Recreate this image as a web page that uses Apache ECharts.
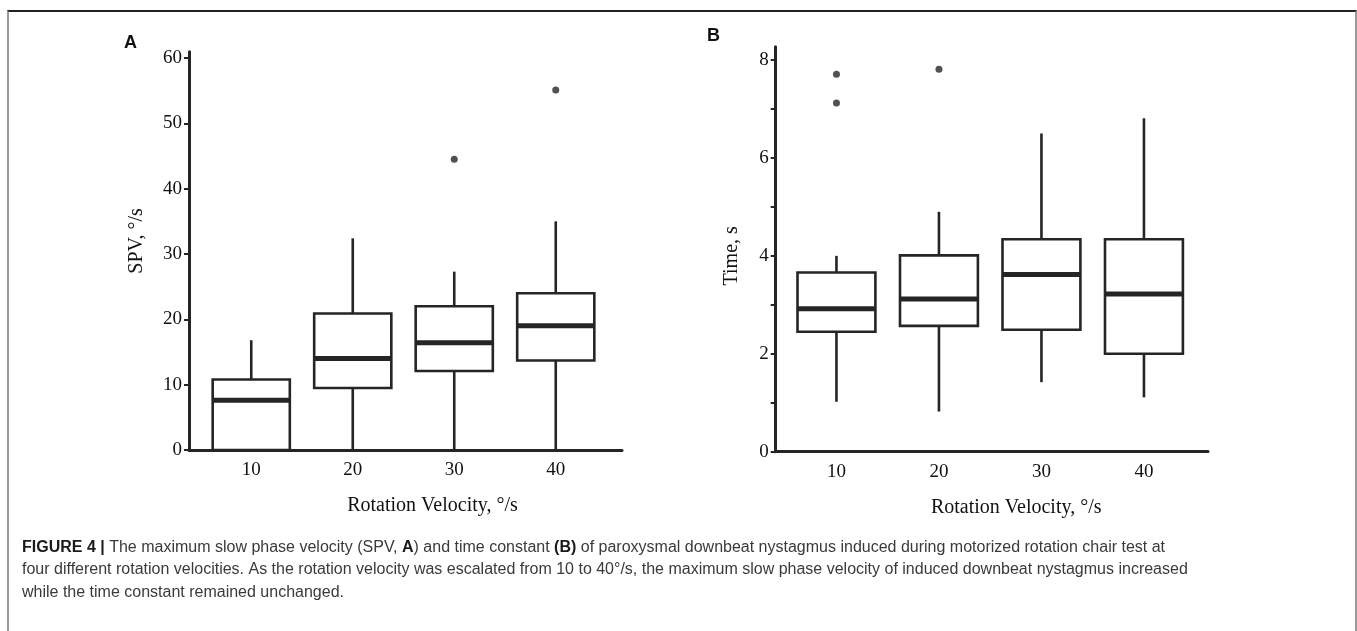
<!DOCTYPE html>
<html>
<head>
<meta charset="utf-8">
<script src="https://cdn.jsdelivr.net/npm/echarts@6/dist/echarts.min.js"></script>
<style>
    body { margin: 0; background: #fff; }
    #chart { position: absolute; left: 0; top: 0; width: 1357px; height: 631px; }
    #frame {
        position: absolute; left: 7px; top: 10px; width: 1346px; height: 640px;
        border-top: 2px solid #222; border-left: 2px solid #999; border-right: 2px solid #999;
        pointer-events: none;
    }
</style>
</head>
<body>
<div id="chart"></div>
<div id="frame"></div>
<script>
// rotation velocities (°/s)
var velocities = ['10', '20', '30', '40'];

// panel A: maximum slow phase velocity, °/s
var spvMin = [0, 0, 0, 0];
var spvQ1 = [0, 9.5, 12.1, 13.7];
var spvMedian = [7.6, 14.0, 16.4, 19.0];
var spvQ3 = [10.8, 20.9, 22.0, 24.0];
var spvMax = [16.8, 32.4, 27.3, 35.0];
var spvOutliers = [[2, 44.5], [3, 55.1]];

// panel B: time constant, s
var timeMin = [1.02, 0.82, 1.42, 1.11];
var timeQ1 = [2.45, 2.57, 2.49, 2.0];
var timeMedian = [2.92, 3.12, 3.62, 3.22];
var timeQ3 = [3.66, 4.01, 4.34, 4.34];
var timeMax = [4.0, 4.9, 6.5, 6.81];
var timeOutliers = [[0, 7.71], [0, 7.12], [1, 7.81]];

var ink = '#252525';
var serif = 'Liberation Serif';

function boxRows(mn, q1, med, q3, mx) {
    var rows = [];
    for (var i = 0; i < velocities.length; i++) {
        rows.push([i, mn[i], q1[i], med[i], q3[i], mx[i]]);
    }
    return rows;
}

// box without whisker caps, thick median
function renderBox(params, api) {
    var x = api.value(0);
    var lo = api.coord([x, api.value(1)]);
    var q1 = api.coord([x, api.value(2)]);
    var med = api.coord([x, api.value(3)]);
    var q3 = api.coord([x, api.value(4)]);
    var hi = api.coord([x, api.value(5)]);
    var half = api.size([1, 0])[0] * 0.38;
    var cx = q1[0];
    return {
        type: 'group',
        children: [
            {type: 'line', shape: {x1: cx, y1: lo[1], x2: cx, y2: q1[1]}, style: {stroke: ink, lineWidth: 2.6}},
            {type: 'line', shape: {x1: cx, y1: q3[1], x2: cx, y2: hi[1]}, style: {stroke: ink, lineWidth: 2.6}},
            {type: 'rect', shape: {x: cx - half, y: q3[1], width: half * 2, height: q1[1] - q3[1]},
                style: {fill: '#fff', stroke: ink, lineWidth: 2.6}},
            {type: 'line', shape: {x1: cx - half, y1: med[1], x2: cx + half, y2: med[1]}, style: {stroke: ink, lineWidth: 5}}
        ]
    };
}

function frameAxes(gridIdx) {
    return {
        x: {type: 'value', gridIndex: gridIdx, min: 0, max: 1, axisLine: {show: true, lineStyle: {color: ink, width: 3}},
            axisTick: {show: false}, axisLabel: {show: false}, splitLine: {show: false}},
        y: {type: 'value', gridIndex: gridIdx, min: 0, max: 1, axisLine: {show: true, lineStyle: {color: ink, width: 3}},
            axisTick: {show: false}, axisLabel: {show: false}, splitLine: {show: false}}
    };
}

var fA = frameAxes(0), fB = frameAxes(2);

var chart = echarts.init(document.getElementById('chart'));
chart.setOption({
    animation: false,
    title: [
        {text: 'A', left: 124, top: 34, padding: 0, textStyle: {fontFamily: 'Liberation Sans', fontWeight: 'bold', fontSize: 18, color: '#111'}},
        {text: 'B', left: 707, top: 27, padding: 0, textStyle: {fontFamily: 'Liberation Sans', fontWeight: 'bold', fontSize: 18, color: '#111'}},
        {
            text: '{b|FIGURE 4 |} The maximum slow phase velocity (SPV, {b|A}) and time constant {b|(B)} of paroxysmal downbeat nystagmus induced during motorized rotation chair test at\n' +
                'four different rotation velocities. As the rotation velocity was escalated from 10 to 40°/s, the maximum slow phase velocity of induced downbeat nystagmus increased\n' +
                'while the time constant remained unchanged.',
            left: 22, top: 536, padding: 0,
            textStyle: {
                fontFamily: 'Liberation Sans', fontSize: 16, fontWeight: 'normal', color: '#3a3a3a', lineHeight: 22.5,
                rich: {b: {fontFamily: 'Liberation Sans', fontSize: 16, fontWeight: 'bold', color: '#1a1a1a', lineHeight: 22.5}}
            }
        }
    ],
    grid: [
        {left: 189, top: 51.7, width: 433, height: 398.3},
        {left: 200.5, top: 58, width: 406, height: 392},
        {left: 775.7, top: 46.7, width: 432.3, height: 405},
        {left: 785.2, top: 60, width: 410, height: 391.7}
    ],
    xAxis: [
        fA.x,
        {type: 'category', gridIndex: 1, data: velocities, axisLine: {show: false}, axisTick: {show: false},
            axisLabel: {fontFamily: serif, fontSize: 19, color: '#111', margin: 11},
            name: 'Rotation Velocity, °/s', nameLocation: 'middle', nameGap: 46,
            nameTextStyle: {fontFamily: serif, fontSize: 20, color: '#111', padding: [0, 0, 0, 58]}},
        fB.x,
        {type: 'category', gridIndex: 3, data: velocities, axisLine: {show: false}, axisTick: {show: false},
            axisLabel: {fontFamily: serif, fontSize: 19, color: '#111', margin: 11},
            name: 'Rotation Velocity, °/s', nameLocation: 'middle', nameGap: 46,
            nameTextStyle: {fontFamily: serif, fontSize: 20, color: '#111', padding: [0, 0, 0, 52]}}
    ],
    yAxis: [
        fA.y,
        {type: 'value', gridIndex: 1, min: 0, max: 60, interval: 10, offset: 11.5,
            axisLine: {show: false}, axisTick: {show: true, length: 5, lineStyle: {color: ink, width: 2}},
            axisLabel: {fontFamily: serif, fontSize: 19, color: '#111', margin: 7},
            splitLine: {show: false},
            name: 'SPV, °/s', nameLocation: 'middle', nameGap: 42,
            nameTextStyle: {fontFamily: serif, fontSize: 20, color: '#111', padding: [0, 0, 0, 26]}},
        fB.y,
        {type: 'value', gridIndex: 3, min: 0, max: 8, interval: 1, offset: 9.5,
            axisLine: {show: false}, axisTick: {show: true, length: 5, lineStyle: {color: ink, width: 2}},
            axisLabel: {fontFamily: serif, fontSize: 19, color: '#111', margin: 7,
                formatter: function (v) { return v % 2 === 0 ? String(v) : ''; }},
            splitLine: {show: false},
            name: 'Time, s', nameLocation: 'middle', nameGap: 34,
            nameTextStyle: {fontFamily: serif, fontSize: 20, color: '#111'}}
    ],
    series: [
        {type: 'custom', xAxisIndex: 1, yAxisIndex: 1, renderItem: renderBox,
            data: boxRows(spvMin, spvQ1, spvMedian, spvQ3, spvMax)},
        {type: 'scatter', xAxisIndex: 1, yAxisIndex: 1, symbolSize: 7, itemStyle: {color: ink},
            data: spvOutliers},
        {type: 'custom', xAxisIndex: 3, yAxisIndex: 3, renderItem: renderBox,
            data: boxRows(timeMin, timeQ1, timeMedian, timeQ3, timeMax)},
        {type: 'scatter', xAxisIndex: 3, yAxisIndex: 3, symbolSize: 7, itemStyle: {color: ink},
            data: timeOutliers}
    ]
});
</script>
</body>
</html>
